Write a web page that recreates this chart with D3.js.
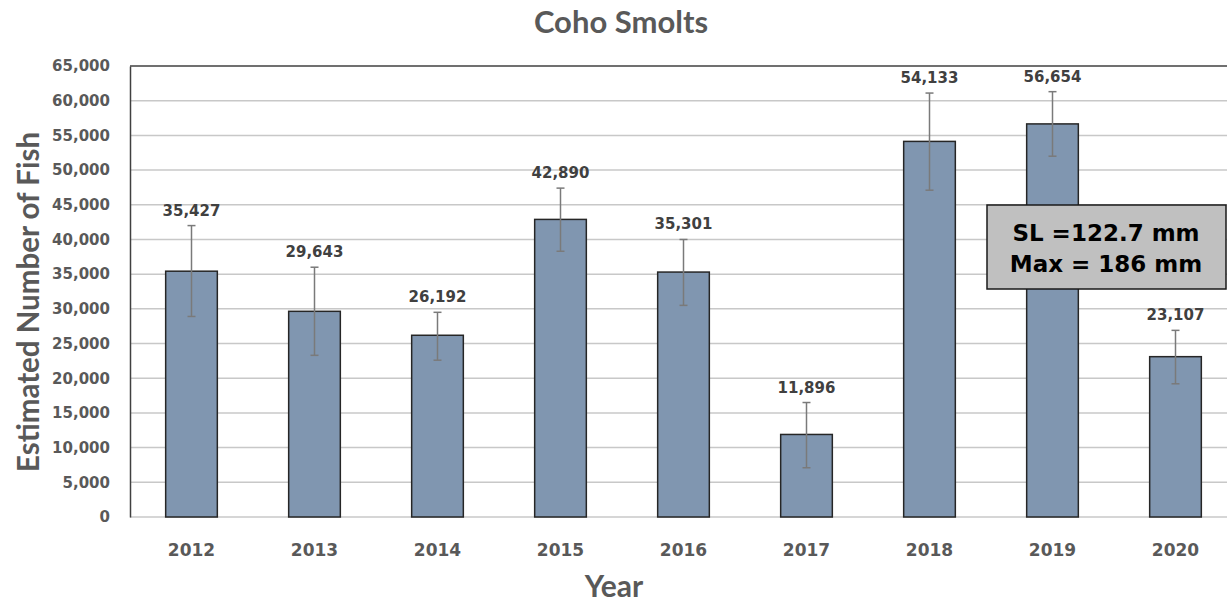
<!DOCTYPE html>
<html lang="en">
<head>
<meta charset="UTF-8">
<title>Coho Smolts</title>
<script src="https://cdn.jsdelivr.net/npm/d3@7"></script>
<style>
    body { margin: 0; background: #fff; }
    .tick text { font-family: "DejaVu Sans", sans-serif; font-weight: bold; fill: #595959; }
</style>
</head>
<body>
<script>
// data
const years = ["2012", "2013", "2014", "2015", "2016", "2017", "2018", "2019", "2020"];
const estimates = [35427, 29643, 26192, 42890, 35301, 11896, 54133, 56654, 23107];
const errHigh = [42000, 36000, 29500, 47400, 40000, 16500, 61100, 61300, 26900];
const errLow = [28900, 23300, 22600, 38300, 30500, 7100, 47100, 52000, 19200];
const yTicks = d3.range(0, 65001, 5000);
const noteLines = ["SL =122.7 mm", "Max = 186 mm"];

const w = 1227, h = 604;
const plotLeft = 130, plotRight = 1237, plotTop = 66, plotBottom = 517;

const svg = d3.select("body").append("svg")
    .attr("width", w)
    .attr("height", h);

const x = d3.scaleBand()
    .domain(years)
    .range([plotLeft, plotRight])
    .paddingInner(0.58)
    .paddingOuter(0.29);

const y = d3.scaleLinear()
    .domain([0, 65000])
    .range([plotBottom, plotTop]);

// gridlines
svg.append("g")
    .selectAll("line")
    .data(yTicks)
    .join("line")
    .attr("x1", plotLeft)
    .attr("x2", plotRight)
    .attr("y1", d => y(d))
    .attr("y2", d => y(d))
    .attr("stroke", d => d === 65000 ? "#404040" : "#c8c8c8")
    .attr("stroke-width", 1.5);

// y axis
const yAxis = svg.append("g")
    .attr("transform", "translate(" + plotLeft + ",0)")
    .call(d3.axisLeft(y).tickValues(yTicks).tickSize(0).tickPadding(20).tickFormat(d3.format(",")));
yAxis.select(".domain").attr("stroke", "#404040").attr("stroke-width", 1.5);
yAxis.selectAll("text").style("font-size", "15px");

// x axis labels
const xAxis = svg.append("g")
    .attr("transform", "translate(0," + plotBottom + ")")
    .call(d3.axisBottom(x).tickSize(0).tickPadding(27));
xAxis.select(".domain").remove();
xAxis.selectAll("text").style("font-size", "17px");

// bars
svg.append("g")
    .selectAll("rect")
    .data(estimates)
    .join("rect")
    .attr("x", (d, i) => x(years[i]))
    .attr("y", d => y(d))
    .attr("width", x.bandwidth())
    .attr("height", d => plotBottom - y(d))
    .attr("fill", "#8096b0")
    .attr("stroke", "#262626")
    .attr("stroke-width", 1.5);

// error bars
const eb = svg.append("g")
    .attr("stroke", "#7a7a7a")
    .attr("stroke-width", 1.5);
years.forEach((yr, i) => {
    const cx = x(yr) + x.bandwidth() / 2;
    eb.append("line").attr("x1", cx).attr("x2", cx).attr("y1", y(errHigh[i])).attr("y2", y(errLow[i]));
    eb.append("line").attr("x1", cx - 4).attr("x2", cx + 4).attr("y1", y(errHigh[i])).attr("y2", y(errHigh[i]));
    eb.append("line").attr("x1", cx - 4).attr("x2", cx + 4).attr("y1", y(errLow[i])).attr("y2", y(errLow[i]));
});

// value labels
svg.append("g")
    .selectAll("text")
    .data(estimates)
    .join("text")
    .attr("x", (d, i) => x(years[i]) + x.bandwidth() / 2)
    .attr("y", (d, i) => y(errHigh[i]) - 10)
    .attr("text-anchor", "middle")
    .style("font-family", "'DejaVu Sans', sans-serif")
    .style("font-weight", "bold")
    .style("font-size", "15px")
    .style("fill", "#404040")
    .text(d => d3.format(",")(d));

// annotation box
svg.append("rect")
    .attr("x", 987)
    .attr("y", 205)
    .attr("width", 239)
    .attr("height", 84)
    .attr("fill", "#c0c0c0")
    .attr("stroke", "#1a1a1a")
    .attr("stroke-width", 1.5);
svg.append("g")
    .selectAll("text")
    .data(noteLines)
    .join("text")
    .attr("x", 1106)
    .attr("y", (d, i) => 241 + i * 31)
    .attr("text-anchor", "middle")
    .style("font-family", "'DejaVu Sans', sans-serif")
    .style("font-weight", "bold")
    .style("font-size", "23px")
    .style("fill", "#000")
    .text(d => d);

// titles
svg.append("text")
    .attr("x", 621)
    .attr("y", 33)
    .attr("text-anchor", "middle")
    .style("font-family", "Lato, sans-serif")
    .style("font-weight", "bold")
    .style("font-size", "31px")
    .style("fill", "#595959")
    .text("Coho Smolts");

svg.append("text")
    .attr("x", 614)
    .attr("y", 597)
    .attr("text-anchor", "middle")
    .style("font-family", "Lato, sans-serif")
    .style("font-weight", "bold")
    .style("font-size", "30px")
    .style("fill", "#595959")
    .text("Year");

svg.append("text")
    .attr("transform", "translate(39,302) rotate(-90)")
    .attr("text-anchor", "middle")
    .style("font-family", "Lato, sans-serif")
    .style("font-weight", "bold")
    .style("font-size", "29.5px")
    .style("fill", "#595959")
    .text("Estimated Number of Fish");
</script>
</body>
</html>
